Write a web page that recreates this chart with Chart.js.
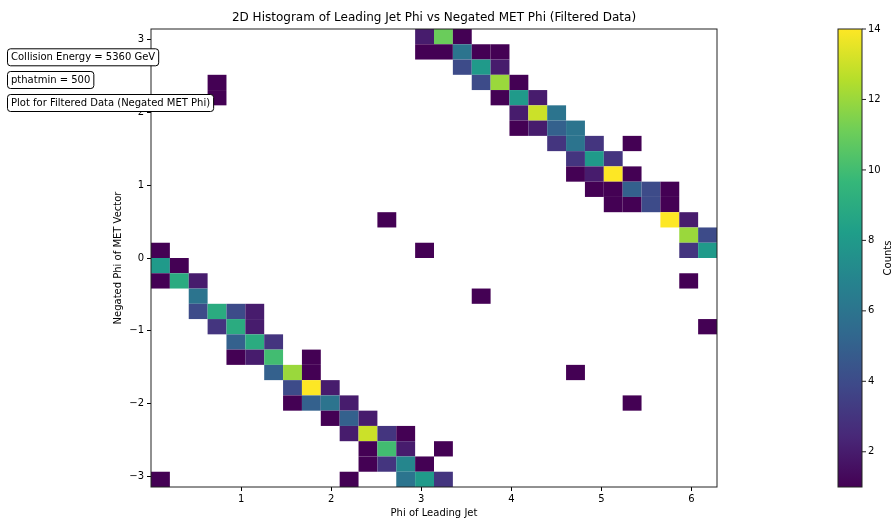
<!DOCTYPE html>
<html>
<head>
<meta charset="utf-8">
<script src="https://cdn.jsdelivr.net/npm/chart.js@4.4.1/dist/chart.umd.min.js"></script>
<style>
  html, body { margin: 0; padding: 0; background: #fff; }
  #wrap { width: 895px; height: 520px; }
</style>
</head>
<body>
<div id="wrap"><canvas id="hist2d" width="895" height="520"></canvas></div>
<script>
const FONT = "'DejaVu Sans', sans-serif";

// histogram binning (30 x 30 bins)
const nBinsX = 30, nBinsY = 30;
const xRange = [0, 2 * Math.PI];
const yRange = [-Math.PI, Math.PI];

const xTicks = [1, 2, 3, 4, 5, 6];
const yTicks = [-3, -2, -1, 0, 1, 2, 3];
const cbTicks = [2, 4, 6, 8, 10, 12, 14];
const countMin = 1, countMax = 14;

const infoLabels = ['Collision Energy = 5360 GeV', 'pthatmin = 500', 'Plot for Filtered Data (Negated MET Phi)'];

// non-empty bins: [jet phi bin, MET phi bin (0 = bottom), count]
const cells = [
  [14, 29, 2], [15, 29, 11], [16, 29, 1],
  [14, 28, 1], [15, 28, 1], [16, 28, 6], [17, 28, 1], [18, 28, 1],
  [16, 27, 4], [17, 27, 8], [18, 27, 2],
  [3, 26, 1], [17, 26, 4], [18, 26, 12], [19, 26, 1],
  [3, 25, 1], [18, 25, 1], [19, 25, 8], [20, 25, 2],
  [19, 24, 2], [20, 24, 13], [21, 24, 6],
  [19, 23, 1], [20, 23, 2], [21, 23, 5], [22, 23, 6],
  [21, 22, 3], [22, 22, 6], [23, 22, 3], [25, 22, 1],
  [22, 21, 3], [23, 21, 8], [24, 21, 3],
  [22, 20, 1], [23, 20, 2], [24, 20, 14], [25, 20, 1],
  [23, 19, 1], [24, 19, 1], [25, 19, 5], [26, 19, 4], [27, 19, 1],
  [24, 18, 1], [25, 18, 1], [26, 18, 4], [27, 18, 1],
  [12, 17, 1], [27, 17, 14], [28, 17, 2],
  [28, 16, 12], [29, 16, 4],
  [0, 15, 1], [14, 15, 1], [28, 15, 3], [29, 15, 8],
  [0, 14, 8], [1, 14, 1],
  [0, 13, 1], [1, 13, 9], [2, 13, 2], [28, 13, 1],
  [2, 12, 6], [17, 12, 1],
  [2, 11, 4], [3, 11, 9], [4, 11, 4], [5, 11, 2],
  [3, 10, 3], [4, 10, 9], [5, 10, 2], [29, 10, 1],
  [4, 9, 5], [5, 9, 9], [6, 9, 3],
  [4, 8, 1], [5, 8, 2], [6, 8, 10], [8, 8, 1],
  [6, 7, 5], [7, 7, 12], [8, 7, 1], [22, 7, 1],
  [7, 6, 4], [8, 6, 14], [9, 6, 2],
  [7, 5, 1], [8, 5, 5], [9, 5, 6], [10, 5, 2], [25, 5, 1],
  [9, 4, 1], [10, 4, 5], [11, 4, 2],
  [10, 3, 2], [11, 3, 13], [12, 3, 3], [13, 3, 1],
  [11, 2, 1], [12, 2, 10], [13, 2, 2], [15, 2, 1],
  [11, 1, 1], [12, 1, 3], [13, 1, 7], [14, 1, 1],
  [0, 0, 1], [10, 0, 1], [13, 0, 6], [14, 0, 8], [15, 0, 3]
];

const binW = (xRange[1] - xRange[0]) / nBinsX;
const binH = (yRange[1] - yRange[0]) / nBinsY;

const viridis = ['#440154', '#482878', '#3e4989', '#31688e', '#26828e',
                 '#1f9e89', '#35b779', '#6ece58', '#b5de2b', '#fde725'];

function hexToRgb(h) {
  return [parseInt(h.slice(1, 3), 16), parseInt(h.slice(3, 5), 16), parseInt(h.slice(5, 7), 16)];
}
function cmap(v) {
  let t = (v - countMin) / (countMax - countMin);
  t = Math.max(0, Math.min(1, t)) * (viridis.length - 1);
  const k = Math.min(Math.floor(t), viridis.length - 2);
  const f = t - k;
  const a = hexToRgb(viridis[k]), b = hexToRgb(viridis[k + 1]);
  const c = a.map((x, i) => Math.round(x + (b[i] - x) * f));
  return `rgb(${c[0]},${c[1]},${c[2]})`;
}
const fmt = v => (v < 0 ? '\u2212' + Math.abs(v) : String(v));

const points = cells.map(([i, j, n]) => ({
  x: xRange[0] + (i + 0.5) * binW,
  y: yRange[0] + (j + 0.5) * binH,
  n: n
}));

const heatPlugin = {
  id: 'heatCells',
  beforeDatasetsDraw(chart) {
    const { ctx, chartArea: ca, scales: { x, y } } = chart;
    ctx.save();
    ctx.beginPath();
    ctx.rect(ca.left, ca.top, ca.right - ca.left, ca.bottom - ca.top);
    ctx.clip();
    chart.data.datasets[0].data.forEach(p => {
      const x0 = x.getPixelForValue(p.x - binW / 2);
      const x1 = x.getPixelForValue(p.x + binW / 2);
      const y0 = y.getPixelForValue(p.y + binH / 2);
      const y1 = y.getPixelForValue(p.y - binH / 2);
      ctx.fillStyle = cmap(p.n);
      ctx.fillRect(x0, y0, x1 - x0, y1 - y0);
    });
    ctx.restore();
  },
  afterDatasetsDraw(chart) {
    const { ctx, chartArea: ca } = chart;
    ctx.save();
    ctx.strokeStyle = '#222';
    ctx.lineWidth = 1;
    ctx.strokeRect(ca.left, ca.top, ca.right - ca.left, ca.bottom - ca.top);
    ctx.restore();
  },
  afterDraw(chart) {
    const { ctx, chartArea: ca } = chart;
    ctx.save();
    // title
    ctx.fillStyle = '#000';
    ctx.font = `12px ${FONT}`;
    ctx.textAlign = 'center';
    ctx.textBaseline = 'middle';
    ctx.fillText('2D Histogram of Leading Jet Phi vs Negated MET Phi (Filtered Data)', (ca.left + ca.right) / 2, 18);

    // colorbar
    const cbL = 838, cbR = 862, top = ca.top, bot = ca.bottom;
    const g = ctx.createLinearGradient(0, bot, 0, top);
    viridis.forEach((c, k) => g.addColorStop(k / (viridis.length - 1), c));
    ctx.fillStyle = g;
    ctx.fillRect(cbL, top, cbR - cbL, bot - top);
    ctx.strokeStyle = '#222';
    ctx.lineWidth = 1;
    ctx.strokeRect(cbL, top, cbR - cbL, bot - top);
    ctx.font = `10px ${FONT}`;
    ctx.textAlign = 'left';
    ctx.fillStyle = '#000';
    cbTicks.forEach(v => {
      const yy = bot - (v - countMin) / (countMax - countMin) * (bot - top);
      ctx.beginPath();
      ctx.moveTo(cbR, yy);
      ctx.lineTo(cbR + 4, yy);
      ctx.stroke();
      ctx.fillText(String(v), cbR + 6, yy);
    });
    ctx.translate(888, (top + bot) / 2);
    ctx.rotate(-Math.PI / 2);
    ctx.textAlign = 'center';
    ctx.fillText('Counts', 0, 0);
    ctx.setTransform(1, 0, 0, 1, 0, 0);

    // info boxes
    const boxCenters = [57.3, 80, 103];
    ctx.font = `10px ${FONT}`;
    ctx.textAlign = 'left';
    infoLabels.forEach((t, k) => {
      const w = ctx.measureText(t).width;
      const bx = 7.5, by = boxCenters[k] - 8.5, bw = w + 7, bh = 17;
      ctx.beginPath();
      ctx.roundRect(bx, by, bw, bh, 3);
      ctx.fillStyle = '#fff';
      ctx.fill();
      ctx.strokeStyle = '#000';
      ctx.lineWidth = 1;
      ctx.stroke();
      ctx.fillStyle = '#000';
      ctx.fillText(t, bx + 3.5, boxCenters[k] + 0.5);
    });
    ctx.restore();
  }
};

new Chart(document.getElementById('hist2d').getContext('2d'), {
  type: 'scatter',
  data: {
    datasets: [{
      label: 'Counts',
      data: points,
      pointRadius: 0,
      pointHoverRadius: 0
    }]
  },
  options: {
    responsive: false,
    animation: false,
    layout: { padding: { left: 108, right: 178, top: 29, bottom: 0 } },
    plugins: {
      legend: { display: false },
      tooltip: { enabled: false },
      title: { display: false }
    },
    scales: {
      x: {
        type: 'linear',
        min: xRange[0], max: xRange[1],
        afterBuildTicks: s => { s.ticks = xTicks.map(v => ({ value: v })); },
        afterFit: s => { s.height = 33; },
        ticks: { font: { family: FONT, size: 10 }, color: '#000', padding: 2, maxRotation: 0, callback: v => fmt(v) },
        grid: { display: true, drawOnChartArea: false, drawTicks: true, tickLength: 4, color: '#000' },
        border: { display: false },
        title: { display: true, text: 'Phi of Leading Jet', font: { family: FONT, size: 10 }, color: '#000', padding: { top: 0, bottom: 1 } }
      },
      y: {
        type: 'linear',
        min: yRange[0], max: yRange[1],
        afterBuildTicks: s => { s.ticks = yTicks.map(v => ({ value: v })); },
        afterFit: s => { s.width = 43; },
        ticks: { font: { family: FONT, size: 10 }, color: '#000', padding: 3, callback: v => fmt(v) },
        grid: { display: true, drawOnChartArea: false, drawTicks: true, tickLength: 4, color: '#000' },
        border: { display: false },
        title: { display: true, text: 'Negated Phi of MET Vector', font: { family: FONT, size: 10 }, color: '#000', padding: { top: 4, bottom: 0 } }
      }
    }
  },
  plugins: [heatPlugin]
});
</script>
</body>
</html>
